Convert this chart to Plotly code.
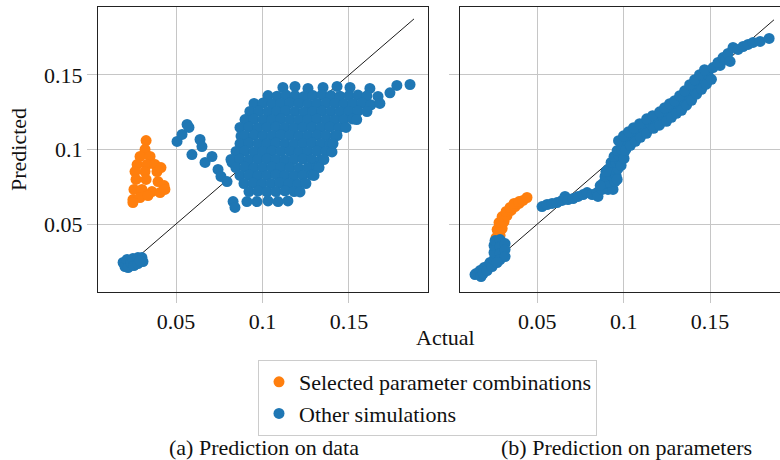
import plotly.graph_objects as go

# ---------------- data ----------------
tick_vals = [0.05, 0.1, 0.15]
tick_text = ["0.05", "0.1", "0.15"]

series_names = ["Selected parameter combinations", "Other simulations"]
captions = ["(a) Prediction on data", "(b) Prediction on parameters"]

# (a) prediction on data
a_sel_x = [0.0327, 0.0321, 0.0292, 0.0350, 0.0275, 0.0332, 0.0379, 0.0263, 0.0321, 0.0390,
           0.0413, 0.0269, 0.0327, 0.0396, 0.0431, 0.0257, 0.0303, 0.0361, 0.0408, 0.0436,
           0.0251, 0.0292, 0.0338, 0.0251]
a_sel_y = [0.1060, 0.1000, 0.0953, 0.0953, 0.0899, 0.0899, 0.0899, 0.0852, 0.0852, 0.0852,
           0.0879, 0.0799, 0.0799, 0.0785, 0.0758, 0.0732, 0.0732, 0.0718, 0.0711, 0.0732,
           0.0664, 0.0678, 0.0691, 0.0644]

a_low_x = [0.0194, 0.0205, 0.0217, 0.0223, 0.0240, 0.0251, 0.0257, 0.0280, 0.0280, 0.0303, 0.0309, 0.0292]
a_low_y = [0.0242, 0.0215, 0.0262, 0.0208, 0.0242, 0.0268, 0.0221, 0.0275, 0.0235, 0.0275, 0.0248, 0.0255]

a_sparse_x = [0.0506, 0.0535, 0.0564, 0.0575, 0.0592, 0.0639, 0.0650, 0.0668, 0.0708, 0.0743,
              0.0760, 0.0795, 0.0824, 0.0830, 0.0841, 0.0910]
a_sparse_y = [0.1054, 0.1101, 0.1168, 0.1148, 0.0966, 0.1067, 0.1020, 0.0913, 0.0953, 0.0866,
              0.0819, 0.0785, 0.0913, 0.0651, 0.0611, 0.0651]

a_cloud_x = [
    0.1118, 0.1188, 0.1263, 0.1350, 0.1431, 0.1506, 0.1621, 0.1777, 0.1853,
    0.1032, 0.1084, 0.1136, 0.1188, 0.1240, 0.1292, 0.1344, 0.1396, 0.1448, 0.1500, 0.1552, 0.1604, 0.1668, 0.1737,
    0.0951, 0.1003, 0.1055, 0.1107, 0.1159, 0.1211, 0.1263, 0.1315, 0.1367, 0.1419, 0.1471, 0.1523, 0.1575, 0.1627, 0.1679,
    0.0927, 0.0979, 0.1031, 0.1083, 0.1135, 0.1188, 0.1240, 0.1292, 0.1344, 0.1396, 0.1448, 0.1500, 0.1552, 0.1604,
    0.0899, 0.0951, 0.1003, 0.1055, 0.1107, 0.1159, 0.1211, 0.1263, 0.1315, 0.1367, 0.1419, 0.1471, 0.1523, 0.1545,
    0.0870, 0.0922, 0.0974, 0.1026, 0.1078, 0.1130, 0.1182, 0.1234, 0.1286, 0.1338, 0.1390, 0.1442, 0.1483,
    0.0876, 0.0899, 0.0951, 0.1003, 0.1055, 0.1107, 0.1159, 0.1211, 0.1263, 0.1315, 0.1367, 0.1419, 0.1431,
    0.0870, 0.0922, 0.0974, 0.1026, 0.1078, 0.1130, 0.1183, 0.1235, 0.1287, 0.1339, 0.1391, 0.1408,
    0.0847, 0.0899, 0.0951, 0.1003, 0.1055, 0.1107, 0.1159, 0.1211, 0.1263, 0.1315, 0.1367, 0.1402,
    0.0818, 0.0870, 0.0922, 0.0974, 0.1026, 0.1078, 0.1130, 0.1182, 0.1234, 0.1286, 0.1338, 0.1355,
    0.0846, 0.0898, 0.0950, 0.1002, 0.1054, 0.1106, 0.1159, 0.1211, 0.1263, 0.1315, 0.1327,
    0.0870, 0.0922, 0.0974, 0.1026, 0.1078, 0.1130, 0.1182, 0.1234, 0.1286, 0.1298,
    0.0893, 0.0945, 0.0997, 0.1049, 0.1101, 0.1153, 0.1205, 0.1251,
    0.0922, 0.0974, 0.1026, 0.1078, 0.1130, 0.1183, 0.1217,
    0.0968, 0.1032, 0.1090, 0.1147,
]
a_cloud_y = [
    0.1416, 0.1423, 0.1410, 0.1416, 0.1423, 0.1416, 0.1410, 0.1430, 0.1436,
    0.1362, 0.1358, 0.1365, 0.1362, 0.1356, 0.1362, 0.1368, 0.1362, 0.1358, 0.1362, 0.1365, 0.1360, 0.1356, 0.1380,
    0.1309, 0.1312, 0.1305, 0.1309, 0.1314, 0.1309, 0.1304, 0.1309, 0.1312, 0.1309, 0.1305, 0.1309, 0.1312, 0.1300, 0.1309,
    0.1255, 0.1258, 0.1252, 0.1255, 0.1260, 0.1255, 0.1250, 0.1255, 0.1258, 0.1255, 0.1252, 0.1255, 0.1258, 0.1255,
    0.1201, 0.1204, 0.1198, 0.1201, 0.1206, 0.1201, 0.1196, 0.1201, 0.1204, 0.1201, 0.1198, 0.1201, 0.1204, 0.1201,
    0.1148, 0.1151, 0.1145, 0.1148, 0.1153, 0.1148, 0.1143, 0.1148, 0.1150, 0.1148, 0.1151, 0.1145, 0.1148,
    0.1090, 0.1094, 0.1097, 0.1091, 0.1094, 0.1099, 0.1094, 0.1089, 0.1094, 0.1097, 0.1094, 0.1091, 0.1094,
    0.1040, 0.1043, 0.1037, 0.1040, 0.1045, 0.1040, 0.1035, 0.1040, 0.1043, 0.1040, 0.1037, 0.1040,
    0.0987, 0.0990, 0.0984, 0.0987, 0.0992, 0.0987, 0.0987, 0.0982, 0.0987, 0.0990, 0.0987, 0.0984,
    0.0933, 0.0936, 0.0930, 0.0933, 0.0938, 0.0933, 0.0928, 0.0933, 0.0936, 0.0933, 0.0930, 0.0933,
    0.0879, 0.0882, 0.0876, 0.0879, 0.0884, 0.0879, 0.0879, 0.0874, 0.0879, 0.0882, 0.0879,
    0.0826, 0.0829, 0.0823, 0.0826, 0.0831, 0.0826, 0.0821, 0.0826, 0.0829, 0.0826,
    0.0772, 0.0775, 0.0769, 0.0772, 0.0777, 0.0772, 0.0767, 0.0772,
    0.0718, 0.0721, 0.0715, 0.0718, 0.0723, 0.0718, 0.0715,
    0.0651, 0.0655, 0.0651, 0.0655,
]

# (b) prediction on parameters
b_sel_x = [0.0261, 0.0284, 0.0267, 0.0296, 0.0278, 0.0307, 0.0296, 0.0324, 0.0319, 0.0348,
           0.0342, 0.0371, 0.0365, 0.0394, 0.0394, 0.0417, 0.0440]
b_sel_y = [0.0409, 0.0423, 0.0463, 0.0470, 0.0510, 0.0517, 0.0550, 0.0557, 0.0584, 0.0591,
           0.0611, 0.0617, 0.0638, 0.0638, 0.0651, 0.0658, 0.0678]

b_low_x = [0.0139, 0.0145, 0.0168, 0.0174, 0.0191, 0.0186, 0.0215, 0.0209, 0.0226, 0.0238,
           0.0249, 0.0249, 0.0249, 0.0255, 0.0284, 0.0284, 0.0284, 0.0284, 0.0313, 0.0313, 0.0313, 0.0267]
b_low_y = [0.0161, 0.0168, 0.0188, 0.0148, 0.0208, 0.0168, 0.0221, 0.0188, 0.0242, 0.0215,
           0.0262, 0.0309, 0.0356, 0.0389, 0.0396, 0.0349, 0.0302, 0.0262, 0.0369, 0.0329, 0.0282, 0.0242]

b_flat_x = [0.0527, 0.0556, 0.0585, 0.0614, 0.0643, 0.0660, 0.0677, 0.0707, 0.0736, 0.0765,
            0.0788, 0.0817, 0.0846, 0.0851]
b_flat_y = [0.0617, 0.0631, 0.0638, 0.0644, 0.0658, 0.0685, 0.0664, 0.0671, 0.0685, 0.0698,
            0.0711, 0.0698, 0.0711, 0.0685]

b_rise_x = [0.0875, 0.0909, 0.0938, 0.0880, 0.0915, 0.0950, 0.0892, 0.0927, 0.0956, 0.0909,
            0.0938, 0.0967, 0.0927, 0.0956, 0.0979, 0.0944, 0.0973, 0.0996, 0.0962, 0.0990, 0.1014,
            0.0864, 0.0897, 0.0962, 0.0985, 0.1002]
b_rise_y = [0.0732, 0.0732, 0.0732, 0.0772, 0.0779, 0.0785, 0.0819, 0.0826, 0.0826, 0.0866,
            0.0866, 0.0872, 0.0913, 0.0913, 0.0919, 0.0953, 0.0960, 0.0966, 0.0993, 0.1000, 0.1007,
            0.0758, 0.0852, 0.0799, 0.0893, 0.0940]

b_band_x = [
    0.0990, 0.1019, 0.1048, 0.1077, 0.1112, 0.1153, 0.1187, 0.1228, 0.1257, 0.1286, 0.1315, 0.1344,
    0.1373, 0.1402, 0.1431, 0.1459, 0.1488,
    0.0970, 0.0999, 0.1028, 0.1057, 0.1092, 0.1133, 0.1167, 0.1208, 0.1237, 0.1266, 0.1295, 0.1324,
    0.1353, 0.1382, 0.1411, 0.1439, 0.1468,
    0.1010, 0.1039, 0.1068, 0.1097, 0.1132, 0.1173, 0.1207, 0.1248, 0.1277, 0.1306, 0.1335, 0.1364,
    0.1393, 0.1422, 0.1451, 0.1479, 0.1508,
]
b_band_y = [
    0.1027, 0.1060, 0.1087, 0.1114, 0.1141, 0.1174, 0.1195, 0.1221, 0.1248, 0.1275, 0.1295, 0.1329,
    0.1362, 0.1403, 0.1436, 0.1470, 0.1503,
    0.1059, 0.1092, 0.1119, 0.1146, 0.1173, 0.1206, 0.1227, 0.1253, 0.1280, 0.1307, 0.1327, 0.1361,
    0.1394, 0.1435, 0.1468, 0.1502, 0.1535,
    0.0995, 0.1028, 0.1055, 0.1082, 0.1109, 0.1142, 0.1163, 0.1189, 0.1216, 0.1243, 0.1263, 0.1297,
    0.1330, 0.1371, 0.1404, 0.1438, 0.1471,
]

b_top_x = [0.1517, 0.1558, 0.1546, 0.1575, 0.1593, 0.1604, 0.1616, 0.1633, 0.1662, 0.1691,
           0.1720, 0.1749, 0.1790, 0.1842]
b_top_y = [0.1550, 0.1564, 0.1584, 0.1617, 0.1604, 0.1644, 0.1591, 0.1685, 0.1671, 0.1691,
           0.1705, 0.1718, 0.1725, 0.1745]

a_diag = [0.019, 0.1876]
b_diag = [0.0139, 0.187]

# ---------------- figure ----------------
FONT = "Liberation Serif, 'Times New Roman', serif"
TXT = "#111111"
ORANGE = "#ff7f0e"
BLUE = "#1f77b4"
MSIZE = 11

a_other_x = a_low_x + a_sparse_x + a_cloud_x
a_other_y = a_low_y + a_sparse_y + a_cloud_y
b_other_x = b_low_x + b_flat_x + b_rise_x + b_band_x + b_top_x
b_other_y = b_low_y + b_flat_y + b_rise_y + b_band_y + b_top_y

fig = go.Figure()

for diag, xa, ya in [(a_diag, "x", "y"), (b_diag, "x2", "y2")]:
    fig.add_trace(go.Scatter(x=diag, y=diag, mode="lines", line=dict(color="black", width=0.9),
                             showlegend=False, hoverinfo="skip", xaxis=xa, yaxis=ya))

fig.add_trace(go.Scatter(x=a_sel_x, y=a_sel_y, mode="markers", name=series_names[0],
                         marker=dict(color=ORANGE, size=MSIZE, line=dict(width=0)),
                         xaxis="x", yaxis="y"))
fig.add_trace(go.Scatter(x=a_other_x, y=a_other_y, mode="markers", name=series_names[1],
                         marker=dict(color=BLUE, size=MSIZE, line=dict(width=0)),
                         xaxis="x", yaxis="y"))
fig.add_trace(go.Scatter(x=b_sel_x, y=b_sel_y, mode="markers", name=series_names[0],
                         marker=dict(color=ORANGE, size=MSIZE, line=dict(width=0)),
                         xaxis="x2", yaxis="y2", showlegend=False))
fig.add_trace(go.Scatter(x=b_other_x, y=b_other_y, mode="markers", name=series_names[1],
                         marker=dict(color=BLUE, size=MSIZE, line=dict(width=0)),
                         xaxis="x2", yaxis="y2", showlegend=False))

GRID = "#c6c6c6"
common = dict(showline=True, linecolor="#222222", linewidth=1, mirror=True,
              showgrid=True, gridcolor=GRID, gridwidth=1, zeroline=False,
              ticks="outside", ticklen=10, tickwidth=1, tickcolor=GRID,
              tickvals=tick_vals, ticktext=tick_text,
              tickfont=dict(family=FONT, size=22, color=TXT))

ydom = [1 - 292 / 460, 1 - 7 / 460]
fig.update_layout(
    width=780, height=460,
    margin=dict(l=0, r=0, t=0, b=0),
    paper_bgcolor="white", plot_bgcolor="white",
    font=dict(family=FONT, size=22, color=TXT),
    xaxis=dict(common, domain=[98 / 780, 428 / 780], range=[0.0049, 0.1957], anchor="y"),
    yaxis=dict(common, domain=ydom, range=[0.0044, 0.1956], anchor="x"),
    xaxis2=dict(common, domain=[460 / 780, 1.0], range=[0.0052, 0.1905], anchor="y2"),
    yaxis2=dict(common, domain=ydom, range=[0.0044, 0.1956], anchor="x2", showticklabels=False),
    showlegend=True,
    legend=dict(x=258 / 780, y=1 - 360 / 460, xanchor="left", yanchor="top",
                bgcolor="white", bordercolor="#cccccc", borderwidth=1,
                font=dict(family=FONT, size=22, color=TXT), traceorder="normal"),
    annotations=[
        dict(text="Predicted", x=18 / 780, y=1 - 150 / 460, xref="paper", yref="paper",
             textangle=-90, showarrow=False, xanchor="center", yanchor="middle",
             font=dict(family=FONT, size=22, color=TXT)),
        dict(text="Actual", x=445 / 780, y=1 - 337 / 460, xref="paper", yref="paper",
             showarrow=False, xanchor="center", yanchor="middle",
             font=dict(family=FONT, size=22, color=TXT)),
        dict(text=captions[0], x=264 / 780, y=1 - 447 / 460, xref="paper", yref="paper",
             showarrow=False, xanchor="center", yanchor="middle",
             font=dict(family=FONT, size=22, color=TXT)),
        dict(text=captions[1], x=626 / 780, y=1 - 447 / 460, xref="paper", yref="paper",
             showarrow=False, xanchor="center", yanchor="middle",
             font=dict(family=FONT, size=22, color=TXT)),
    ],
)

fig.write_html("out.html", config={"displayModeBar": False, "staticPlot": True},
               post_script="document.body.style.margin='0';")
